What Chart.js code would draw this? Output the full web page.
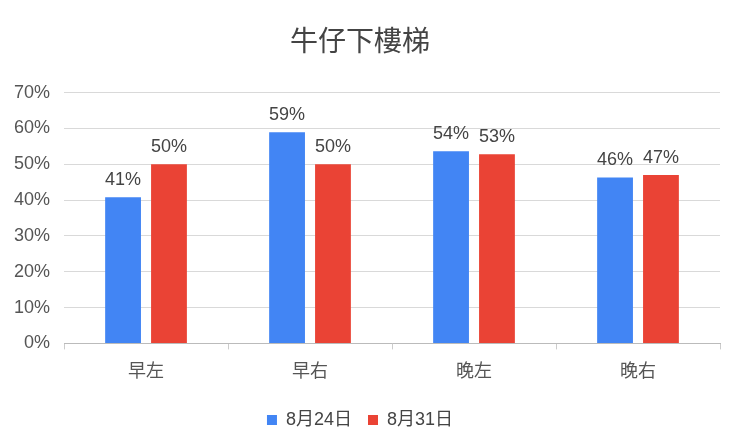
<!DOCTYPE html>
<html>
<head>
<meta charset="utf-8">
<script src="https://cdn.jsdelivr.net/npm/chart.js@4/dist/chart.umd.min.js"></script>
<style>
  html, body { margin: 0; padding: 0; background: #fff; }
  #wrap { width: 740px; height: 444px; }
</style>
</head>
<body>
<div id="wrap"><canvas id="chart"></canvas></div>
<script>
// Dados
const categorias = ['早左', '早右', '晚左', '晚右'];
const serie0824 = [40.8, 58.9, 53.6, 46.3];
const serie0831 = [50.0, 50.0, 52.8, 47.0];
const ticksY = [0, 10, 20, 30, 40, 50, 60, 70];

const FONTE = "'Liberation Sans', 'Noto Sans CJK TC', sans-serif";

// Rótulos de valor acima das barras
const rotulosPlugin = {
    id: 'rotulos',
    afterDatasetsDraw(chart) {
        const ctx = chart.ctx;
        ctx.save();
        ctx.font = `18px ${FONTE}`;
        ctx.fillStyle = '#444';
        ctx.textAlign = 'center';
        ctx.textBaseline = 'bottom';
        chart.data.datasets.forEach((ds, i) => {
            chart.getDatasetMeta(i).data.forEach((bar, j) => {
                ctx.fillText(`${Math.round(ds.data[j])}%`, bar.x, bar.y - 8);
            });
        });
        ctx.restore();
    }
};

new Chart(document.getElementById('chart'), {
    type: 'bar',
    data: {
        labels: categorias,
        datasets: [
            { label: '8月24日', data: serie0824, backgroundColor: '#4285F4' },
            { label: '8月31日', data: serie0831, backgroundColor: '#EA4335' }
        ]
    },
    options: {
        responsive: true,
        maintainAspectRatio: false,
        animation: false,
        categoryPercentage: 0.56,
        barPercentage: 0.78,
        layout: { padding: { left: 0, right: 20, top: 12, bottom: 5 } },
        scales: {
            x: {
                grid: { drawOnChartArea: false, drawTicks: true, tickLength: 6, offset: true, color: '#ccc' },
                border: { color: '#bbb' },
                ticks: { font: { family: FONTE, size: 18 }, color: '#555', padding: 12 }
            },
            y: {
                min: 0,
                max: 70,
                afterBuildTicks: axis => { axis.ticks = ticksY.map(v => ({ value: v })); },
                grid: { color: '#d9d9d9', drawTicks: false },
                border: { display: false },
                ticks: { font: { family: FONTE, size: 18 }, color: '#555', padding: 14, callback: v => `${v}%` }
            }
        },
        plugins: {
            title: {
                display: true,
                text: '牛仔下樓梯',
                font: { family: FONTE, size: 28, weight: 'normal' },
                color: '#444',
                padding: { top: 14, bottom: 33 }
            },
            legend: {
                position: 'bottom',
                labels: { font: { family: FONTE, size: 18 }, color: '#444', boxWidth: 10, boxHeight: 10, padding: 16 }
            },
            tooltip: { enabled: false }
        }
    },
    plugins: [rotulosPlugin]
});
</script>
</body>
</html>
